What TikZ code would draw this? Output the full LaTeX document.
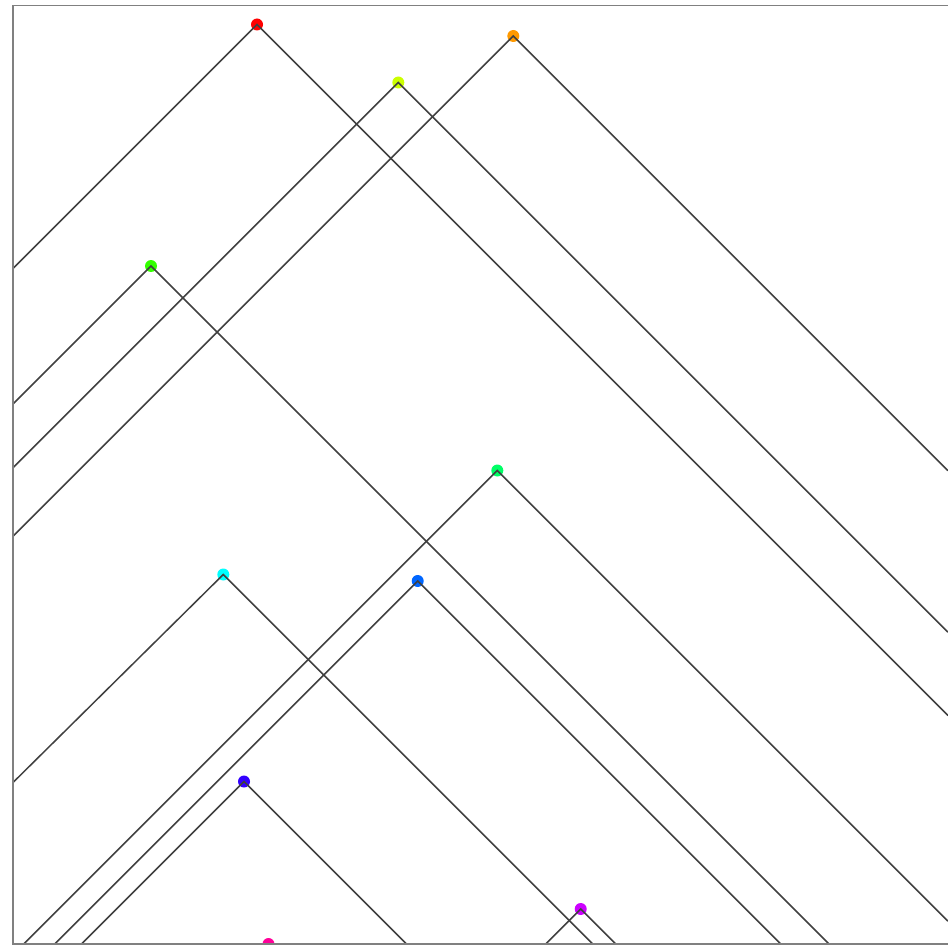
\documentclass[tikz,border=0pt]{standalone}
\begin{document}
\begin{tikzpicture}[x=1pt,y=-1pt,
  ray/.style={draw=black!75, line width=1.5pt},
  frameline/.style={draw=black!50, line width=1.6pt},
  dot/.style={circle, inner sep=0pt, minimum size=12pt, draw=none}]
\useasboundingbox (0,0) rectangle (948,947);
\definecolor{c0}{HTML}{FF0000}
\definecolor{c1}{HTML}{FF9900}
\definecolor{c2}{HTML}{CCFF00}
\definecolor{c3}{HTML}{33FF00}
\definecolor{c4}{HTML}{00FF66}
\definecolor{c5}{HTML}{00FFFF}
\definecolor{c6}{HTML}{0066FF}
\definecolor{c7}{HTML}{3300FF}
\definecolor{c8}{HTML}{CC00FF}
\definecolor{c9}{HTML}{FF0099}
\begin{scope}
\clip (13,5.5) rectangle (960,944);
% dots
\node[dot, fill=c0] (p0) at (257,24.5) {};
\node[dot, fill=c1] (p1) at (513.3,36) {};
\node[dot, fill=c2] (p2) at (398.3,82.5) {};
\node[dot, fill=c3] (p3) at (151,266) {};
\node[dot, fill=c4] (p4) at (497.3,470.5) {};
\node[dot, fill=c5] (p5) at (223.3,574.5) {};
\node[dot, fill=c6] (p6) at (417.7,581) {};
\node[dot, fill=c7] (p7) at (244,781.5) {};
\node[dot, fill=c8] (p8) at (580.7,909) {};
\node[dot, fill=c9] (p9) at (268.5,944) {};
% free ends
\coordinate (l0) at (13,268.5);   \coordinate (r0) at (948,715.5);
\coordinate (l1) at (13,536.3);   \coordinate (r1) at (948,470.7);
\coordinate (l2) at (13,467.8);   \coordinate (r2) at (948,632.2);
\coordinate (l3) at (13,404);     \coordinate (r3) at (829,944);
\coordinate (l4) at (23.8,944);   \coordinate (r4) at (948,921.2);
\coordinate (l5) at (13,782.5);   \coordinate (r5) at (592.8,944);
\coordinate (l6) at (54.7,944);   \coordinate (r6) at (780.7,944);
\coordinate (l7) at (81.5,944);   \coordinate (r7) at (406.5,944);
\coordinate (l8) at (545.7,944);  \coordinate (r8) at (615.7,944);
\foreach \i in {0,...,8} {
  \draw[ray] (l\i) -- (p\i.center) -- (r\i);
}
\end{scope}
\draw[frameline] (960,5.5) -- (13,5.5) -- (13,944) -- (960,944);
\end{tikzpicture}
\end{document}
